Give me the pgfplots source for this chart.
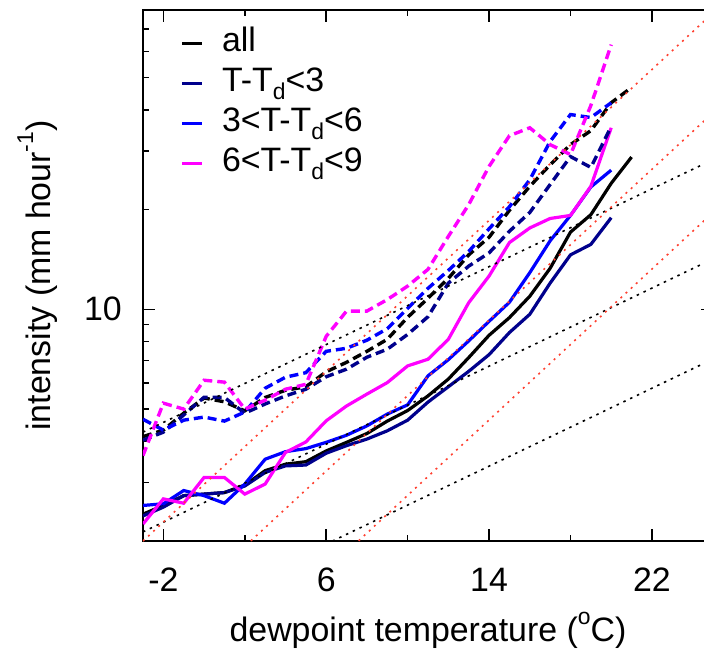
\documentclass[border=0pt]{standalone}
\usepackage{fontspec}
\setmainfont{Liberation Sans}
\usepackage{pgfplots}
\pgfplotsset{compat=1.18}
\definecolor{navyc}{RGB}{0,0,140}
\definecolor{bluec}{RGB}{0,0,255}
\definecolor{magc}{RGB}{255,0,255}
\definecolor{redc}{RGB}{255,64,48}
\newcommand{\subr}[1]{\raisebox{-0.26em}{\fontsize{23}{23}\selectfont #1}}
\newcommand{\supr}[1]{\raisebox{0.5em}{\fontsize{23}{23}\selectfont #1}}
\begin{document}
\begin{tikzpicture}
\fontsize{34}{40}\selectfont
\begin{axis}[
  scale only axis, width=570bp, height=531bp,
  xmin=-3, xmax=25, ymode=log, ymin=2, ymax=80,
  xtick={-2,6,14,22}, xticklabels={-2,6,14,22},
  minor xtick={2,10,18},
  ytick={10}, yticklabels={10},
  minor ytick={3,4,5,6,7,8,9,20,30,40,50,60,70},
  major tick length=12bp, minor tick length=6bp,
  every tick/.style={line width=1.6bp, black},
  every minor tick/.style={line width=1.6bp, black},
  axis line style={line width=2bp},
  tick label style={font=\fontsize{34}{40}\selectfont},
  xticklabel style={anchor=base, yshift=-50bp},
  yticklabel style={anchor=east, inner sep=0pt, xshift=-21bp},
  xlabel={dewpoint temperature (\supr{o}C)},
  ylabel={intensity (mm hour\supr{-1})},
  label style={font=\fontsize{34}{40}\selectfont},
  xlabel style={at={(axis description cs:0.5,0)}, anchor=base, yshift=-100bp},
  ylabel style={at={(axis description cs:-0.163,0.5)}, anchor=base},
  legend style={draw=none, fill=none, at={(0.066,0.97)}, anchor=north west,
    font=\fontsize{34}{40}\selectfont, inner sep=0pt, row sep=5bp, column sep=18bp,
    nodes={inner sep=0pt, text height=25bp, text depth=10bp}},
  legend cell align=left,
  legend image code/.code={\draw[#1, line width=3.2bp] (0bp,0bp) -- (20bp,0bp);},
]
% solid curves
\addplot[black, line width=3.2bp] table {
-3 2.41
-2 2.56
-1 2.74
0 2.77
1 2.80
2 2.95
3 3.26
4 3.41
5 3.47
6 3.74
7 3.97
8 4.22
9 4.60
10 4.95
11 5.48
12 6.16
13 7.15
14 8.35
15 9.44
16 10.95
17 13.3
18 17.1
19 19.3
20 24.0
21 28.8
};
\addlegendentry{all}
\addplot[navyc, line width=3.2bp] table {
-3 2.38
-2 2.53
-1 2.74
0 2.77
1 2.80
2 2.93
3 3.22
4 3.37
5 3.39
6 3.68
7 3.88
8 4.06
9 4.30
10 4.63
11 5.25
12 5.84
13 6.5
14 7.3
15 8.51
16 9.66
17 12.0
18 14.6
19 15.7
20 18.9
};
\addlegendentry{T-T\subr{d}<3}
\addplot[bluec, line width=3.2bp] table {
-3 2.56
-2 2.59
-1 2.84
0 2.74
1 2.60
2 2.97
3 3.53
4 3.72
5 3.80
6 3.97
7 4.17
8 4.45
9 4.83
10 5.15
11 6.30
12 7.05
13 8.03
14 9.2
15 10.5
16 12.9
17 16.1
18 19.2
19 23.4
20 26.3
};
\addlegendentry{3<T-T\subr{d}<6}
\addplot[magc, line width=3.2bp] table {
-3 2.25
-2 2.68
-1 2.60
0 3.11
1 3.11
2 2.77
3 2.97
4 3.70
5 3.98
6 4.61
7 5.11
8 5.55
9 6.01
10 6.75
11 7.07
12 8.12
13 10.47
14 12.6
15 15.9
16 17.6
17 18.8
18 19.2
19 23.5
20 35.3
};
\addlegendentry{6<T-T\subr{d}<9}
% dashed curves
\addplot[black, line width=3.4bp, dash pattern=on 9bp off 5bp, forget plot] table {
-3 4.13
-2 4.32
-1 4.86
0 5.40
1 5.26
2 4.94
3 5.42
4 5.70
5 5.84
6 6.48
7 6.92
8 7.47
9 8.12
10 9.46
11 10.8
12 12.4
13 14.6
14 16.5
15 19.9
16 23.5
17 27.3
18 31.4
19 34.6
20 42.0
21 46.7
};
\addplot[navyc, line width=3.4bp, dash pattern=on 9bp off 5bp, forget plot] table {
-3 4.03
-2 4.26
-1 4.80
0 5.43
1 5.42
2 4.86
3 5.18
4 5.48
5 5.74
6 6.26
7 6.60
8 7.17
9 7.58
10 8.4
11 9.5
12 12.0
13 13.5
14 14.8
15 17.2
16 19.6
17 23.8
18 28.9
19 26.8
20 35.6
};
\addplot[bluec, line width=3.4bp, dash pattern=on 9bp off 5bp, forget plot] table {
-3 4.66
-2 4.32
-1 4.63
0 4.73
1 4.60
2 4.90
3 5.78
4 6.24
5 6.44
6 7.47
7 7.63
8 8.07
9 8.74
10 10.07
11 11.57
12 13.1
13 14.95
14 17.5
15 20.4
16 24.6
17 32.1
18 38.7
19 37.9
20 42.0
};
\addplot[magc, line width=3.4bp, dash pattern=on 9bp off 5bp, forget plot] table {
-3 3.62
-2 5.21
-1 5.00
0 6.11
1 6.03
2 5.00
3 5.32
4 5.74
5 5.94
6 8.29
7 9.88
8 9.88
9 10.7
10 11.75
11 13.2
12 16.6
13 20.7
14 27.0
15 33.4
16 35.3
17 31.4
18 29.3
19 41.2
20 62.9
};
% reference scaling lines (7%/K black, 14%/K red)
\addplot[black, line width=1.6bp, dash pattern=on 2.5bp off 5bp, forget plot] table {
-3 4.26
25 28.3
};
\addplot[black, line width=1.6bp, dash pattern=on 2.5bp off 5bp, forget plot] table {
-3 2.13
25 14.2
};
\addplot[black, line width=1.6bp, dash pattern=on 2.5bp off 5bp, forget plot] table {
-3 1.065
25 7.08
};
\addplot[redc, line width=1.6bp, dash pattern=on 2bp off 5bp, forget plot] table {
-3 2.0
25 78.4
};
\addplot[redc, line width=1.6bp, dash pattern=on 2bp off 5bp, forget plot] table {
-3 1.0
25 39.2
};
\addplot[redc, line width=1.6bp, dash pattern=on 2bp off 5bp, forget plot] table {
-3 0.5
25 19.6
};
\end{axis}
\pgfresetboundingbox
\path (current axis.south west) ++(-143bp,-114bp) rectangle ++(704bp,655bp);
\end{tikzpicture}
\end{document}
